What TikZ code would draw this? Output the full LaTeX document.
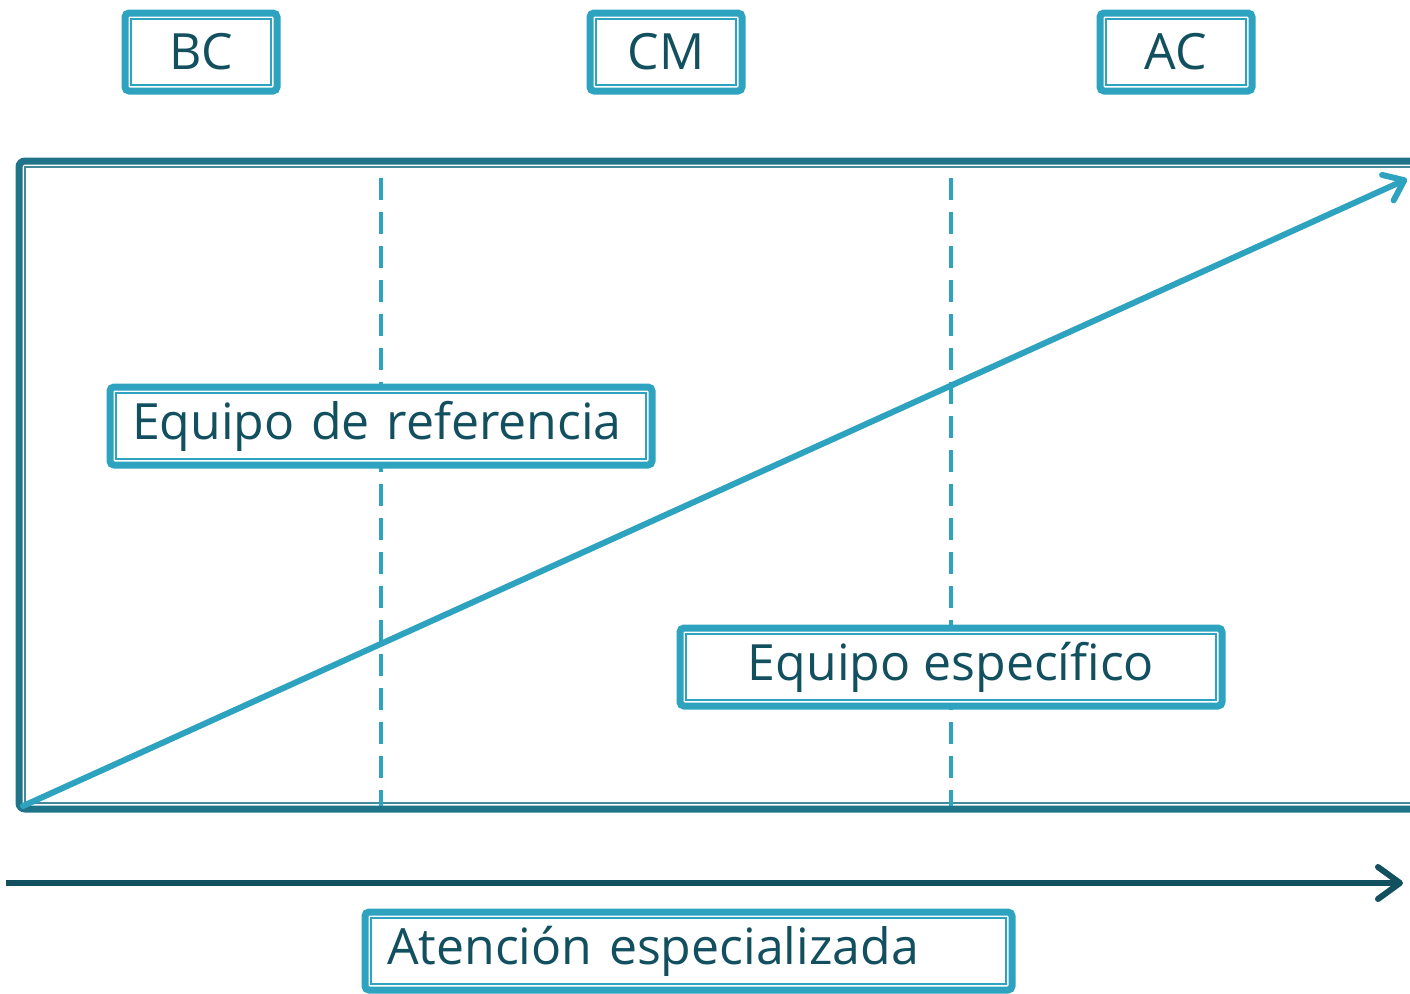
\documentclass[tikz,border=0pt]{standalone}
\usepackage{fontspec}
\setmainfont{Open Sans}
\usetikzlibrary{arrows.meta}
\definecolor{boxcol}{HTML}{2EA3BF}
\definecolor{framecol}{HTML}{1F7489}
\definecolor{textcol}{HTML}{12505F}
\tikzset{
    dblbox/.style={draw=boxcol, fill=white, line width=3.5pt, rounded corners=2pt,
        text=textcol, inner sep=0pt, minimum height=39pt,
        font=\fontsize{25}{29}\selectfont,
        path picture={\draw[boxcol, line width=1pt, sharp corners]
            ([shift={(3.2pt,-3.2pt)}]path picture bounding box.north west) rectangle
            ([shift={(-3.2pt,3.2pt)}]path picture bounding box.south east);}},
    leftbox/.style={dblbox, align=left, inner xsep=11pt, text width=#1}
}
\begin{document}
\begin{tikzpicture}[x=0.5pt, y=-0.5pt]
    \useasboundingbox (0,0) rectangle (1410,993);

    % frame
    \draw[framecol, line width=3.5pt, rounded corners=3pt] (1430,161) -- (19,161) -- (19,809) -- (1430,809);
    \draw[framecol!85!white, line width=1pt] (1430,167) -- (25,167) -- (25,803) -- (1430,803);

    % dashed limits
    \coordinate (d1t) at (381,178);
    \coordinate (d1b) at (381,806);
    \coordinate (d2t) at (951,178);
    \coordinate (d2b) at (951,806);
    \draw[boxcol, line width=2pt, dash pattern=on 11pt off 6pt] (d1t) -- (d1b);
    \draw[boxcol, line width=2pt, dash pattern=on 11pt off 6pt] (d2t) -- (d2b);

    % rising line
    \coordinate (start) at (23,806);
    \coordinate (peak) at (1407,179);
    \draw[boxcol, line width=3pt, line cap=round,
        -{Straight Barb[length=9pt, width=14pt, line width=3pt, round]}] (start) -- (peak);

    % bottom axis
    \coordinate (axl) at (6,883);
    \coordinate (axr) at (1403,883);
    \draw[textcol, line width=3pt,
        -{Straight Barb[length=11pt, width=16pt, line width=3pt, round]}] (axl) -- (axr);

    % level labels
    \node[dblbox, minimum width=76pt] (bc) at (201,52) {BC};
    \node[dblbox, minimum width=76pt] (cm) at (666,52) {CM};
    \node[dblbox, minimum width=76pt] (ac) at (1176,52) {AC};

    % teams
    \node[leftbox=249pt] (ref) at (381,426) {Equipo de referencia};
    \node[dblbox, minimum width=271pt] (esp) at (951,667) {Equipo específico};

    % bottom label
    \node[leftbox=301.5pt] (aten) at (688.5,951) {Atención especializada};
\end{tikzpicture}
\end{document}
